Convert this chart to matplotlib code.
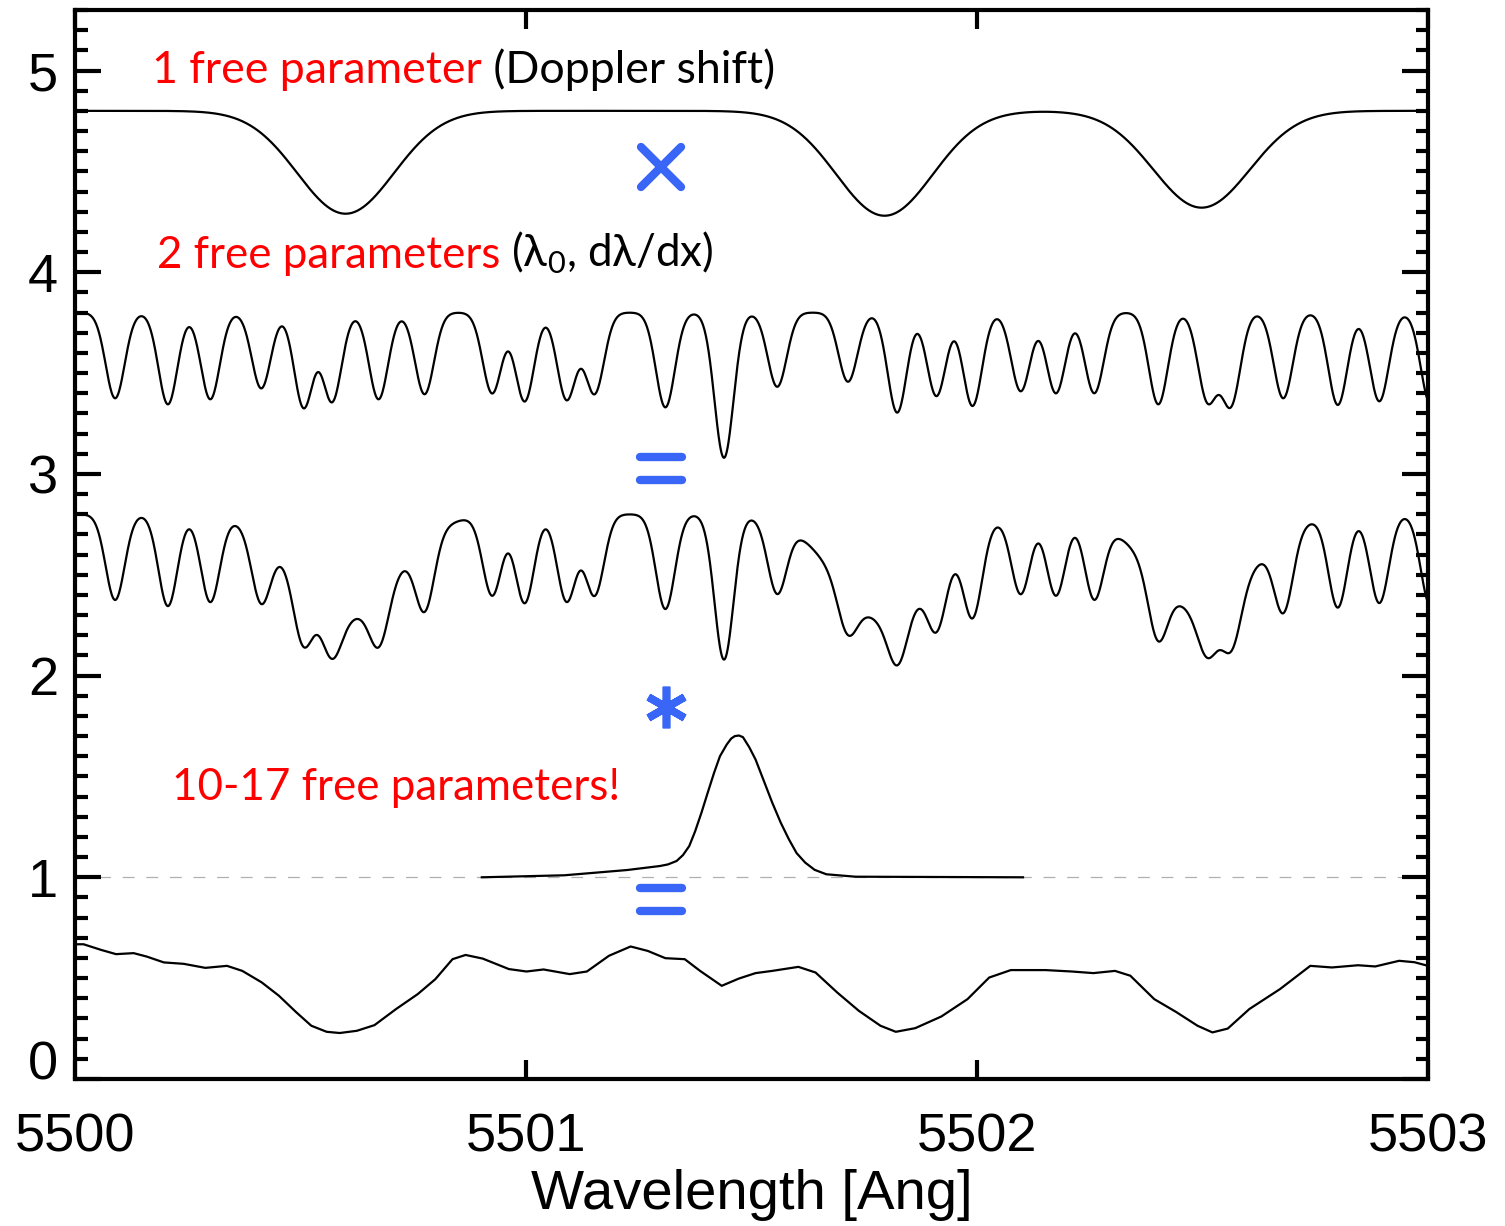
import numpy as np
import matplotlib
matplotlib.use("Agg")
import matplotlib.pyplot as plt
from matplotlib.markers import MarkerStyle
from matplotlib.ticker import MultipleLocator

# stellar absorption lines (top spectrum, continuum offset 3.8)
star_centers = [5500.600, 5501.795, 5502.498]
star_depths = [0.51, 0.52, 0.48]
star_width = 0.107

# iodine cell lines (second spectrum, continuum offset 2.8)
iodine_centers = [5500.089, 5500.206, 5500.300, 5500.413, 5500.507, 5500.570,
                  5500.673, 5500.775, 5500.925, 5500.997, 5501.090, 5501.152,
                  5501.309, 5501.439, 5501.557, 5501.714, 5501.823, 5501.910,
                  5501.990, 5502.097, 5502.175, 5502.260, 5502.402, 5502.511,
                  5502.563, 5502.679, 5502.800, 5502.892, 5503.005]
iodine_depths = [0.425, 0.455, 0.43, 0.376, 0.47, 0.44,
                 0.43, 0.405, 0.40, 0.44, 0.43, 0.40,
                 0.47, 0.72, 0.368, 0.343, 0.496, 0.414,
                 0.463, 0.39, 0.40, 0.40, 0.455, 0.43,
                 0.45, 0.425, 0.458, 0.44, 0.45]
iodine_width = 0.021

# instrumental profile (offset 1.0)
lsf_wave = [5500.902, 5501.085, 5501.224, 5501.297, 5501.315, 5501.334, 5501.348,
            5501.362, 5501.375, 5501.389, 5501.403, 5501.417, 5501.430, 5501.445,
            5501.455, 5501.463, 5501.472, 5501.481, 5501.495, 5501.509, 5501.527,
            5501.546, 5501.565, 5501.583, 5501.600, 5501.619, 5501.640, 5501.666,
            5501.730, 5502.102]
lsf_flux = [1.000, 1.010, 1.036, 1.056, 1.064, 1.081, 1.110,
            1.155, 1.228, 1.320, 1.420, 1.518, 1.600, 1.658,
            1.688, 1.700, 1.703, 1.695, 1.645, 1.584, 1.480,
            1.370, 1.270, 1.188, 1.120, 1.073, 1.037, 1.015,
            1.003, 1.000]

# observed spectrum (bottom)
obs_wave = [5500.000, 5500.019, 5500.058, 5500.091, 5500.130, 5500.159, 5500.197,
            5500.241, 5500.289, 5500.337, 5500.371, 5500.414, 5500.452, 5500.491,
            5500.524, 5500.558, 5500.587, 5500.625, 5500.664, 5500.712, 5500.760,
            5500.799, 5500.837, 5500.866, 5500.904, 5500.962, 5501.001, 5501.039,
            5501.097, 5501.135, 5501.184, 5501.232, 5501.270, 5501.309, 5501.352,
            5501.386, 5501.434, 5501.472, 5501.509, 5501.546, 5501.604, 5501.642,
            5501.690, 5501.738, 5501.786, 5501.820, 5501.863, 5501.921, 5501.979,
            5502.027, 5502.075, 5502.152, 5502.210, 5502.258, 5502.306, 5502.340,
            5502.393, 5502.441, 5502.489, 5502.522, 5502.556, 5502.604, 5502.672,
            5502.739, 5502.787, 5502.845, 5502.883, 5502.936, 5502.970, 5503.000]
obs_flux = [0.668, 0.668, 0.640, 0.619, 0.624, 0.607, 0.578,
            0.571, 0.551, 0.561, 0.536, 0.479, 0.413, 0.330,
            0.264, 0.234, 0.228, 0.239, 0.267, 0.347, 0.421,
            0.495, 0.594, 0.615, 0.597, 0.545, 0.533, 0.543,
            0.520, 0.533, 0.611, 0.657, 0.635, 0.599, 0.594,
            0.536, 0.462, 0.498, 0.525, 0.536, 0.556, 0.528,
            0.429, 0.338, 0.264, 0.234, 0.252, 0.310, 0.396,
            0.503, 0.540, 0.540, 0.533, 0.525, 0.536, 0.512,
            0.396, 0.333, 0.264, 0.231, 0.250, 0.347, 0.446,
            0.561, 0.553, 0.564, 0.558, 0.586, 0.579, 0.561]

wave = np.linspace(5500, 5503, 3001)


def line_spectrum(centers, depths, width):
    flux = np.ones_like(wave)
    for c, d in zip(centers, depths):
        flux -= d * np.exp(-0.5 * ((wave - c) / width) ** 2)
    return flux


star = line_spectrum(star_centers, star_depths, star_width)
iodine = line_spectrum(iodine_centers, iodine_depths, iodine_width)

plt.rcParams['mathtext.fontset'] = 'custom'
plt.rcParams['mathtext.rm'] = 'Lato'
plt.rcParams['lines.scale_dashes'] = False

fig = plt.figure(figsize=(15.05, 12.26), dpi=100)
ax = fig.add_axes([75 / 1505, 147 / 1226, 1353 / 1505, 1069 / 1226])

ax.axhline(1.0, color='#b0b0b0', lw=0.9, dashes=(8.5, 8.5), zorder=1)
ax.plot(wave, 3.8 + star, color='black', lw=1.6)
ax.plot(wave, 2.8 + iodine, color='black', lw=1.6)
ax.plot(wave, 1.8 + star * iodine, color='black', lw=1.6)
ax.plot(lsf_wave, lsf_flux, color='black', lw=1.6)
ax.plot(obs_wave, obs_flux, color='black', lw=1.6)

ax.set_xlim(5500, 5503)
ax.set_ylim(0, 5.3)
ax.set_xticks([5500, 5501, 5502, 5503])
ax.set_xticklabels(['5500', '5501', '5502', '5503'])
ax.set_yticks([0, 1, 2, 3, 4, 5])
ax.set_yticklabels(['0', '1', '2', '3', '4', '5'])
ax.yaxis.set_minor_locator(MultipleLocator(0.1))
ax.tick_params(which='both', direction='in', top=True, right=True, width=3,
               labelfontfamily='Liberation Sans', labelsize=39)
ax.tick_params(axis='y', which='major', length=19, pad=12)
ax.tick_params(axis='y', which='minor', length=9, width=3)
ax.tick_params(axis='x', which='major', length=14, pad=24)
for s in ax.spines.values():
    s.set_linewidth(3)
ax.yaxis.get_major_ticks()[0].label1.set_verticalalignment('baseline')
ax.set_xlabel('Wavelength [Ang]', family='Liberation Sans', fontsize=40.5, labelpad=5)

# annotations
fam = ['Lato', 'DejaVu Sans']
t1 = ax.text(5500.171, 4.94, '1 free parameter', color='red', fontsize=32.1, family=fam)
ax.annotate(' (Doppler shift)', xy=(1, 0), xycoords=t1, va='bottom', ha='left',
            color='black', fontsize=32.1, family=fam)
t2 = ax.text(5500.182, 4.02, '2 free parameters', color='red', fontsize=31.6, family=fam)
ax.annotate(r' (λ$_0$, dλ/dx)', xy=(1, 0), xycoords=t2, va='bottom', ha='left',
            color='black', fontsize=31.6, family=fam)
ax.text(5500.215, 1.385, '10-17 free parameters!', color='red', fontsize=31.6, family=fam)

blue = '#3a66f7'
ax.plot([5501.300], [4.52], ls='none', marker=MarkerStyle('x', capstyle='round'),
        ms=29, mew=6, color=blue)
ax.plot([5501.300, 5501.300], [3.084, 2.970], ls='none',
        marker=MarkerStyle('_', capstyle='round'), ms=30, mew=6, color=blue)
ax.plot([5501.311], [1.842], ls='none', marker=MarkerStyle((6, 2, 0), capstyle='round'),
        ms=30, mew=5.5, color=blue)
ax.plot([5501.300, 5501.300], [0.946, 0.832], ls='none',
        marker=MarkerStyle('_', capstyle='round'), ms=30, mew=6, color=blue)

fig.savefig('out.png', dpi=100)
